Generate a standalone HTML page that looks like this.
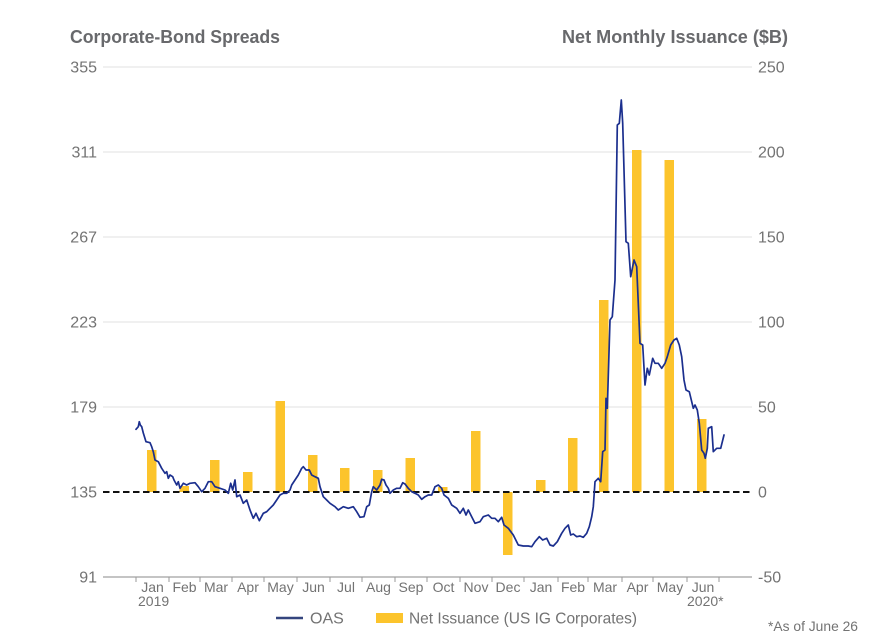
<!DOCTYPE html>
<html>
<head>
<meta charset="utf-8">
<style>
html,body{margin:0;padding:0;background:#fff;}
svg{display:block;}
text{font-family:"Liberation Sans",Arial,sans-serif;}
</style>
</head>
<body>
<svg width="870" height="641" viewBox="0 0 870 641" xmlns="http://www.w3.org/2000/svg">
  <rect width="870" height="641" fill="#fff"/>
  <!-- titles -->
  <text x="70" y="43" font-size="18" font-weight="bold" fill="#68696c" textLength="210" lengthAdjust="spacingAndGlyphs">Corporate-Bond Spreads</text>
  <text x="788" y="43" font-size="18" font-weight="bold" fill="#68696c" text-anchor="end" textLength="226" lengthAdjust="spacingAndGlyphs">Net Monthly Issuance ($B)</text>

  <!-- gridlines -->
  <g stroke="#e6e6e6" stroke-width="1.2">
    <line x1="103" y1="67" x2="752" y2="67"/>
    <line x1="103" y1="152" x2="752" y2="152"/>
    <line x1="103" y1="237" x2="752" y2="237"/>
    <line x1="103" y1="322" x2="752" y2="322"/>
    <line x1="103" y1="407" x2="752" y2="407"/>
  </g>
  <line x1="103" y1="577" x2="752" y2="577" stroke="#8a8a8a" stroke-width="1"/>

  <!-- left labels -->
  <g font-size="16" fill="#737373" text-anchor="end">
    <text x="97" y="72.5">355</text>
    <text x="97" y="157.5">311</text>
    <text x="97" y="242.5">267</text>
    <text x="97" y="327.5">223</text>
    <text x="97" y="412.5">179</text>
    <text x="97" y="497.5">135</text>
    <text x="97" y="582.5">91</text>
  </g>
  <!-- right labels -->
  <g font-size="16" fill="#737373">
    <text x="758" y="72.5">250</text>
    <text x="758" y="157.5">200</text>
    <text x="758" y="242.5">150</text>
    <text x="758" y="327.5">100</text>
    <text x="758" y="412.5">50</text>
    <text x="758" y="497.5">0</text>
    <text x="758" y="582.5">-50</text>
  </g>

  <!-- ticks -->
  <g stroke="#999" stroke-width="1">
    <line x1="136" y1="577" x2="136" y2="582"/>
    <line x1="169" y1="577" x2="169" y2="582"/>
    <line x1="200" y1="577" x2="200" y2="582"/>
    <line x1="232" y1="577" x2="232" y2="582"/>
    <line x1="264" y1="577" x2="264" y2="582"/>
    <line x1="297" y1="577" x2="297" y2="582"/>
    <line x1="330" y1="577" x2="330" y2="582"/>
    <line x1="362" y1="577" x2="362" y2="582"/>
    <line x1="395" y1="577" x2="395" y2="582"/>
    <line x1="427" y1="577" x2="427" y2="582"/>
    <line x1="460" y1="577" x2="460" y2="582"/>
    <line x1="492" y1="577" x2="492" y2="582"/>
    <line x1="524" y1="577" x2="524" y2="582"/>
    <line x1="558" y1="577" x2="558" y2="582"/>
    <line x1="588" y1="577" x2="588" y2="582"/>
    <line x1="622" y1="577" x2="622" y2="582"/>
    <line x1="653" y1="577" x2="653" y2="582"/>
    <line x1="687" y1="577" x2="687" y2="582"/>
    <line x1="719" y1="577" x2="719" y2="582"/>
  </g>
  <!-- month labels -->
  <g font-size="14" fill="#737373" text-anchor="middle">
    <text x="152.5" y="592">Jan</text>
    <text x="184.5" y="592">Feb</text>
    <text x="216" y="592">Mar</text>
    <text x="248" y="592">Apr</text>
    <text x="280.5" y="592">May</text>
    <text x="313.5" y="592">Jun</text>
    <text x="346" y="592">Jul</text>
    <text x="378.5" y="592">Aug</text>
    <text x="411" y="592">Sep</text>
    <text x="443.5" y="592">Oct</text>
    <text x="476" y="592">Nov</text>
    <text x="508" y="592">Dec</text>
    <text x="541" y="592">Jan</text>
    <text x="573" y="592">Feb</text>
    <text x="605" y="592">Mar</text>
    <text x="637.5" y="592">Apr</text>
    <text x="670" y="592">May</text>
    <text x="703" y="592">Jun</text>
  </g>
  <g font-size="14" fill="#737373">
    <text x="138" y="606">2019</text>
    <text x="687" y="606">2020*</text>
  </g>

  <!-- bars -->
  <g fill="#fcc42c">
    <rect x="147" y="450" width="9.5" height="42"/>
    <rect x="179.5" y="486" width="9.5" height="6"/>
    <rect x="210" y="460" width="9.5" height="32"/>
    <rect x="243" y="472" width="9.5" height="20"/>
    <rect x="275.5" y="401" width="9.5" height="91"/>
    <rect x="308" y="455" width="9.5" height="37"/>
    <rect x="340" y="468" width="9.5" height="24"/>
    <rect x="373" y="470" width="9.5" height="22"/>
    <rect x="405.5" y="458" width="9.5" height="34"/>
    <rect x="438" y="487" width="9.5" height="5"/>
    <rect x="471" y="431" width="9.5" height="61"/>
    <rect x="503" y="492" width="9.5" height="63"/>
    <rect x="536" y="480" width="9.5" height="12"/>
    <rect x="568" y="438" width="9.5" height="54"/>
    <rect x="599" y="300" width="9.5" height="192"/>
    <rect x="632" y="150" width="9.5" height="342"/>
    <rect x="664.5" y="160" width="9.5" height="332"/>
    <rect x="697" y="419" width="9.5" height="73"/>
  </g>

  <!-- zero dashed line -->
  <line x1="103" y1="492" x2="752" y2="492" stroke="#111" stroke-width="2" stroke-dasharray="6.5,3.5"/>

  <!-- OAS line -->
  <polyline fill="none" stroke="#1b2f8e" stroke-width="1.7" stroke-linejoin="round" stroke-linecap="round"
  points="136,429.3 138.3,426.7 139.3,421.7 140.3,425 141.7,426.7 143.3,433 146,441.7 150,442.7 151.7,446.7 153.3,451.7 155,460 158.3,461.7 161.7,468.3 165,473.3 166.7,471.7 168.3,478.3 170,475 172.7,476.7 174,480 176.7,485 178.3,481.7 180,488.3 183.3,483.3 186.7,485 190,483.3 195,482.7 198.3,486.7 201.7,491.7 205,488.3 208.3,481.7 211.7,481.7 215,486.7 220,488.3 225,490 228.3,493.3 230.7,483.3 232.7,490 235,480 236.7,496.7 240,495 243.3,503.3 246.7,500 250,510 253.3,518.3 256,513.3 259.3,520.7 263.3,513.3 266.7,511.7 270,508.3 273.3,505 276.7,500 280,495 283.3,493.3 286.7,493.3 290,490 291.7,485 295,480 298.3,475 301.7,468.3 303.3,466.7 306,470 309.3,470 311.7,475 315,476.7 318.3,478.3 320,486.7 323.3,496.7 326.7,500 330,503.3 335,506.7 338.3,510 343.3,506.7 348.3,508.3 353.3,506.7 356.7,511.7 360,517.3 364,516.7 366.7,506.7 369.3,505 371.7,491.7 373.3,486.7 376.7,490 380,485 381.7,479.3 384,480 386,485 388.3,488.3 390,493.3 393.3,490 396.7,488.3 400,488.3 402.7,482.7 405,484 408.3,488.3 411.7,491.7 415,493.3 418.3,495 421.7,499.3 425,496.7 428.3,495 431.7,495 435,486.7 438.3,485 441.7,488.3 444,495 448.3,498.3 451.7,505 456.7,508.3 460,513.3 463.3,508.3 466,515 468.3,510 471.7,516.7 475,523.3 480,521.7 483.3,516.7 488.3,515 491.7,518.3 495,518.3 498.3,521.7 501.7,517.3 504,525 508.3,528.3 513.3,535 518.3,545 523.3,546 528.3,546 531.7,546.7 535,541.7 539.3,536.7 542.7,540 546.7,538.3 550,545 553.3,546 557.3,541.7 561.7,533.3 565,528.3 568.3,525 570.7,535 573.3,534 576.7,536.7 580,536 583.3,537.3 586.7,533.3 589.3,526.7 591.7,516.7 593.3,506.7 595,481.7 598.3,478.3 600.7,481.7 602.7,451.7 605,450 606,398.3 607.3,408.3 610,320 612.3,316.7 615,280 617.3,125 619.3,123.3 621.3,100 622.7,123.3 626,241.7 628.3,243.3 630.7,276.7 634,260 636.7,266.7 640,343.3 642.7,345 645,385 647.3,368.3 649.3,375 652.7,358.3 655,363.3 658.3,363.3 661.7,368.3 665,363.3 667.3,356.7 670.7,345 674,340 676.7,338.3 679.3,345 681.7,356.7 684,380 686,390 689.3,391.7 693.3,408.3 695,405 697.3,410 699.3,423.3 701.7,450 704,453.3 705.3,458.3 707.3,448.3 708.3,428.3 711.7,426.7 713.3,451.7 716.7,448.3 720.7,448.3 724,435"/>

  <!-- legend -->
  <line x1="276" y1="618" x2="303" y2="618" stroke="#34457e" stroke-width="2.5"/>
  <text x="310" y="623.5" font-size="16" fill="#737373">OAS</text>
  <rect x="376" y="613" width="27" height="10" fill="#fcc42c"/>
  <text x="409" y="623.5" font-size="16" fill="#737373" textLength="228" lengthAdjust="spacingAndGlyphs">Net Issuance (US IG Corporates)</text>
  <text x="768" y="631" font-size="14" fill="#737373" textLength="90" lengthAdjust="spacingAndGlyphs">*As of June 26</text>
</svg>
</body>
</html>
